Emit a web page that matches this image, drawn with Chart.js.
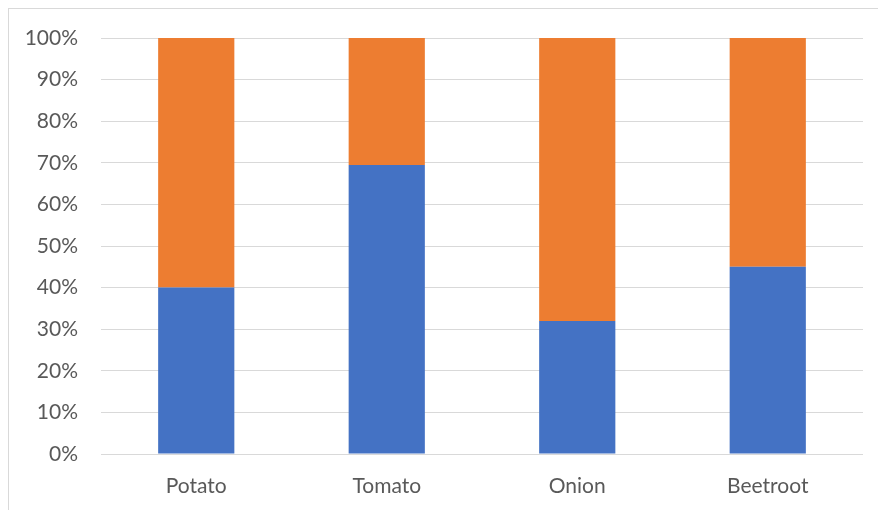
<!DOCTYPE html>
<html>
<head>
<meta charset="utf-8">
<script src="https://cdn.jsdelivr.net/npm/chart.js@4"></script>
<style>
  html, body { margin: 0; padding: 0; background: #fff; overflow: hidden; }
  #wrap { position: relative; width: 878px; height: 510px; }
  #frame {
    position: absolute; left: 8px; top: 8px; width: 900px; height: 600px;
    border: 1px solid #d9d9d9; box-sizing: border-box;
  }
  canvas { position: absolute; left: 0; top: 0; }
</style>
</head>
<body>
<div id="wrap">
  <div id="frame"></div>
  <canvas id="chart" width="878" height="510"></canvas>
</div>
<script>
// chart data
const categories = ['Potato', 'Tomato', 'Onion', 'Beetroot'];
const series1 = [40, 69.5, 32, 45];
const series2 = [60, 30.5, 68, 55];
const tickLabels = ['0%', '10%', '20%', '30%', '40%', '50%', '60%', '70%', '80%', '90%', '100%'];

const textColor = '#595959';
const font = { family: 'Lato, "Liberation Sans", sans-serif', size: 21 };

new Chart(document.getElementById('chart'), {
    type: 'bar',
    data: {
        labels: categories,
        datasets: [
            {
                label: 'Series1',
                data: series1,
                backgroundColor: '#4472C4',
                borderWidth: 0,
                barPercentage: 0.8,
                categoryPercentage: 0.5
            },
            {
                label: 'Series2',
                data: series2,
                backgroundColor: '#ED7D31',
                borderWidth: 0,
                barPercentage: 0.8,
                categoryPercentage: 0.5
            }
        ]
    },
    options: {
        responsive: false,
        animation: false,
        layout: { padding: { left: 0, top: 38, right: 15, bottom: 0 } },
        plugins: {
            legend: { display: false },
            tooltip: { enabled: false }
        },
        scales: {
            x: {
                stacked: true,
                grid: { display: false },
                border: { display: false },
                ticks: { color: textColor, font: font, padding: 12 },
                afterFit: (scale) => { scale.height = 56; }
            },
            y: {
                stacked: true,
                min: 0,
                max: 100,
                grid: { color: '#d9d9d9', lineWidth: 1, drawTicks: false },
                border: { display: false },
                ticks: {
                    stepSize: 10,
                    color: textColor,
                    font: font,
                    padding: 23,
                    callback: (v) => tickLabels[Math.round(v / 10)]
                },
                afterFit: (scale) => { scale.width = 101; }
            }
        }
    }
});
</script>
</body>
</html>
